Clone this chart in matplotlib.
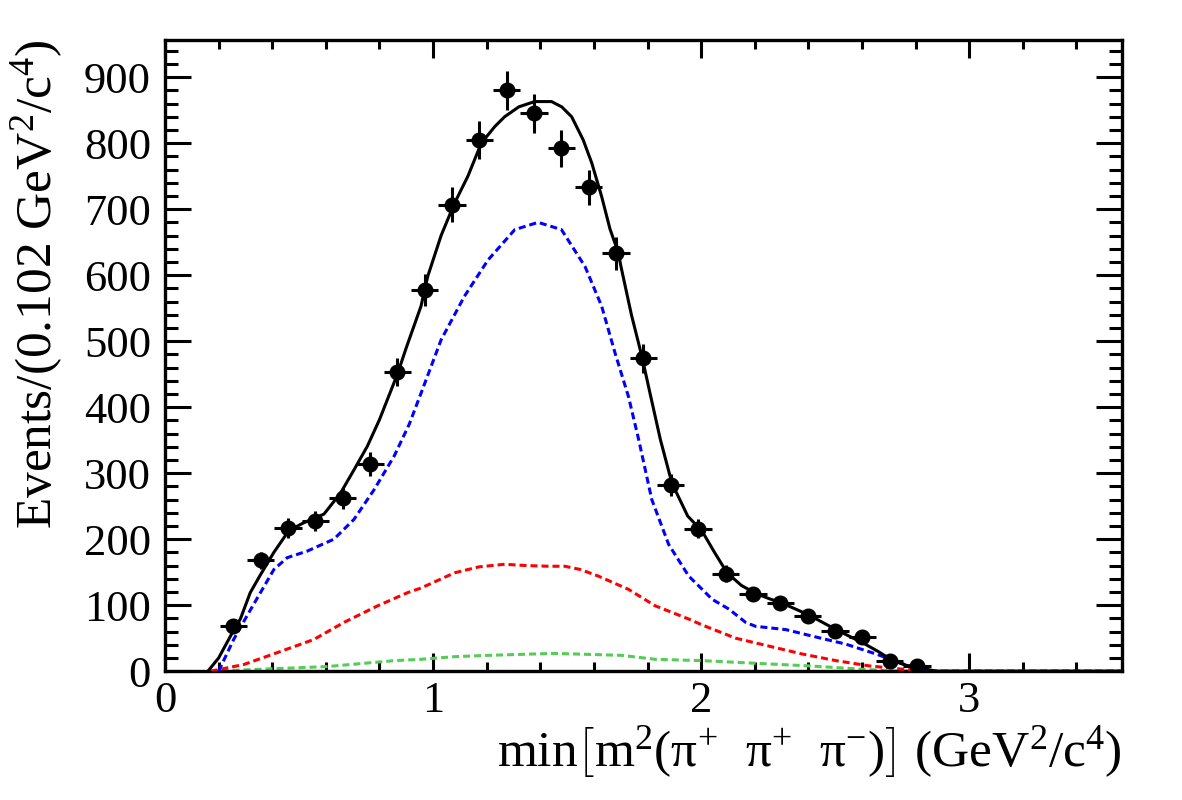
import numpy as np
import matplotlib
matplotlib.use("Agg")
import matplotlib.pyplot as plt
from matplotlib.ticker import MultipleLocator

plt.rcParams['font.family'] = ['Liberation Serif', 'DejaVu Serif']
plt.rcParams['mathtext.fontset'] = 'custom'
plt.rcParams['mathtext.rm'] = 'Liberation Serif'
plt.rcParams['mathtext.it'] = 'Liberation Serif'
plt.rcParams['mathtext.bf'] = 'Liberation Serif:bold'

# data points (bin width 0.102)
bin_centers = [0.255, 0.357, 0.459, 0.561, 0.663, 0.765, 0.867, 0.969, 1.071,
               1.173, 1.275, 1.377, 1.479, 1.581, 1.683, 1.785, 1.887, 1.989,
               2.091, 2.193, 2.295, 2.397, 2.499, 2.601, 2.703, 2.805]
counts = [68, 168, 217, 228, 262, 314, 453, 578, 707, 805, 880, 845, 792,
          733, 633, 474, 282, 216, 148, 117, 104, 84, 61, 52, 16, 8]
half_bin = 0.051

# total fit (solid black)
fit_x = [0.16, 0.20, 0.256, 0.281, 0.318, 0.356, 0.406, 0.462, 0.518, 0.593,
         0.655, 0.705, 0.755, 0.80, 0.867, 0.90, 0.955, 0.98, 1.03, 1.08,
         1.13, 1.18, 1.23, 1.267, 1.32, 1.379, 1.442, 1.48, 1.517, 1.56,
         1.592, 1.629, 1.66, 1.692, 1.70, 1.74, 1.779, 1.81, 1.848, 1.891,
         1.95, 2.004, 2.05, 2.097, 2.15, 2.203, 2.253, 2.303, 2.353, 2.403,
         2.503, 2.603, 2.66, 2.715, 2.765, 2.815, 2.878, 3.57]
fit_y = [0, 20, 62, 79, 119, 146, 180, 213, 225, 238,
         270, 305, 341, 381, 450, 490, 553, 598, 660, 709,
         750, 800, 825, 840, 855, 863, 863, 855, 840, 805,
         770, 719, 670, 633, 615, 540, 477, 420, 351, 285,
         235, 212, 180, 149, 130, 118, 110, 103, 94, 85,
         63, 43, 30, 16, 9, 5, 0, 0]

# signal component (blue dashed)
blue_x = [0.20, 0.256, 0.306, 0.356, 0.406, 0.456, 0.531, 0.63, 0.705, 0.78,
          0.855, 0.911, 0.955, 1.03, 1.117, 1.205, 1.305, 1.392, 1.479, 1.567,
          1.629, 1.679, 1.729, 1.767, 1.816, 1.879, 1.954, 2.004, 2.041, 2.104,
          2.166, 2.203, 2.316, 2.416, 2.54, 2.653, 2.753, 2.828, 2.87, 3.57]
blue_y = [0, 48, 84, 119, 154, 172, 182, 200, 230, 275,
          326, 374, 421, 502, 568, 623, 669, 680, 669, 613,
          553, 482, 416, 351, 260, 192, 144, 124, 109, 94,
          74, 68, 63, 53, 41, 26, 11, 3, 0, 0]

# background component (red dashed)
red_x = [0.17, 0.293, 0.418, 0.555, 0.668, 0.793, 0.905, 0.955, 1.08, 1.17,
         1.267, 1.35, 1.43, 1.492, 1.55, 1.617, 1.729, 1.829, 1.954, 2.004,
         2.079, 2.129, 2.253, 2.378, 2.503, 2.628, 2.753, 2.85, 3.57]
red_y = [0, 10, 28, 48, 74, 99, 119, 126, 149, 158,
         162, 160, 159, 159, 154, 144, 124, 99, 79, 70,
         58, 50, 38, 26, 16, 8, 3, 0, 0]

# background component (green dashed)
green_x = [0.17, 0.356, 0.605, 0.855, 0.955, 1.08, 1.205, 1.454, 1.704, 1.829,
           2.004, 2.203, 2.403, 2.603, 2.70, 2.85, 3.57]
green_y = [0, 3, 7, 16, 18, 22, 24, 27, 24, 18,
           16, 12, 8, 3, 0.5, 0, 0]

fig = plt.figure(figsize=(11.82, 8), dpi=100)
ax = fig.add_axes([0.1396, 0.161, 0.8096, 0.7896])

dash = (0, (2.3, 1.3))
ax.plot(green_x, green_y, color='#55cc55', lw=2.2, linestyle=dash, zorder=2)
ax.plot(red_x, red_y, color='#ff0000', lw=2.2, linestyle=dash, zorder=3)
ax.plot(blue_x, blue_y, color='#0000ff', lw=2.2, linestyle=dash, zorder=3)
ax.plot(fit_x, fit_y, color='black', lw=2.2, zorder=4)

yerr = np.sqrt(counts)
ax.errorbar(bin_centers, counts, xerr=half_bin, yerr=yerr, fmt='o',
            color='black', markersize=10.5, elinewidth=2.2, capsize=0, zorder=5)

ax.set_xlim(0, 3.57)
ax.set_ylim(0, 957)
ax.xaxis.set_major_locator(MultipleLocator(1))
ax.xaxis.set_minor_locator(MultipleLocator(0.2))
ax.yaxis.set_major_locator(MultipleLocator(100))
ax.yaxis.set_minor_locator(MultipleLocator(20))

ax.tick_params(axis='both', which='both', direction='in', top=True, right=True,
               width=2.2, labelsize=32)
ax.tick_params(axis='x', which='major', length=13, pad=7)
ax.tick_params(axis='x', which='minor', length=6.5)
ax.tick_params(axis='y', which='major', length=19, pad=10)
ax.tick_params(axis='y', which='minor', length=9.5)
for s in ax.spines.values():
    s.set_linewidth(2.4)

ax.set_xlabel(r"min$\left[\mathrm{m}^{2}(\mathrm{\pi}^{+}\ \ \mathrm{\pi}^{+}\ \ \mathrm{\pi}^{-})\right]$ (GeV$^{2}$/c$^{4}$)",
              fontsize=37, loc='right')
ax.xaxis.set_label_coords(1.0, -0.083)
ax.set_ylabel(r"Events/(0.102 GeV$^{2}$/c$^{4}$)", fontsize=37, loc='top')
ax.yaxis.set_label_coords(-0.105, 1.0)

fig.savefig("out.png", dpi=100)
